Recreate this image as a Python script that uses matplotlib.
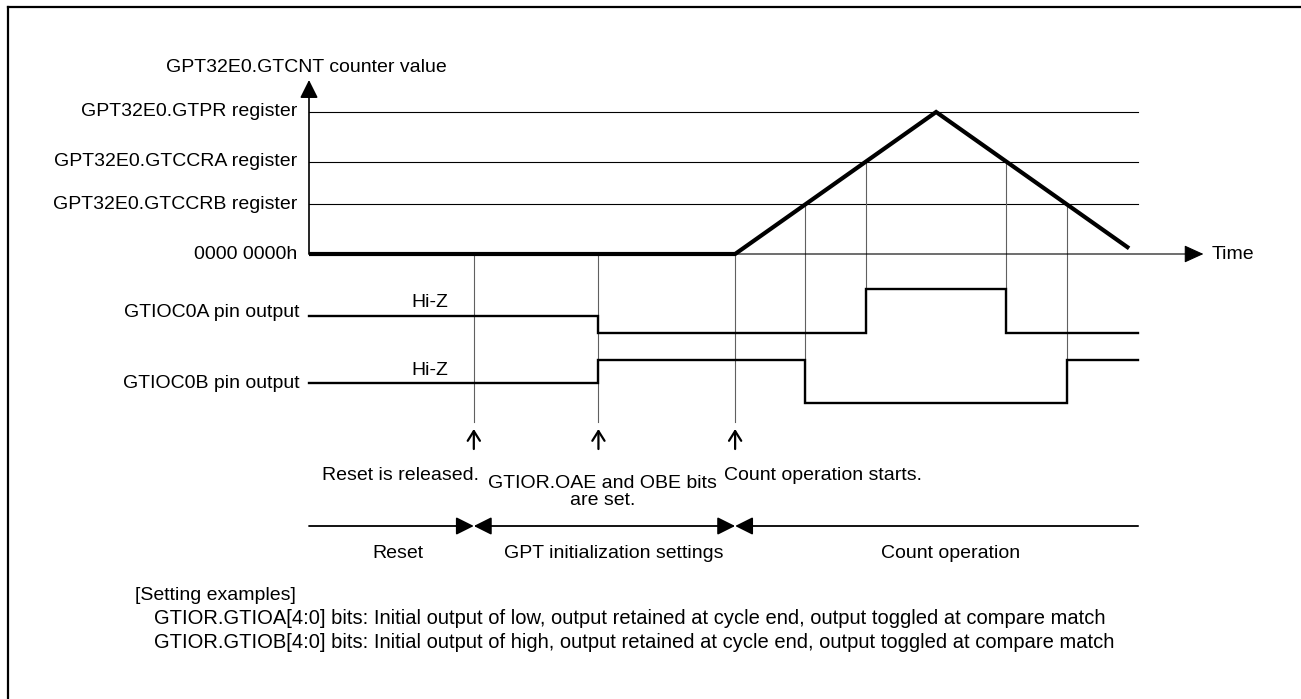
import numpy as np
import matplotlib
matplotlib.use("Agg")
import matplotlib.pyplot as plt
from matplotlib.lines import Line2D

plt.rcParams['font.family'] = ['Liberation Sans', 'DejaVu Sans']

# register levels (counter value as % of the GTPR period)
register_names = ["GPT32E0.GTPR register", "GPT32E0.GTCCRA register",
                  "GPT32E0.GTCCRB register", "0000 0000h"]
register_values = [100, 65, 35, 0]
GTCCRA = register_values[1]
GTCCRB = register_values[2]

# GTCNT counter: stopped, then up-count to GTPR, then down-count
counter_t = [0, 212, 312, 408]
counter_v = [0, 0, 100, 4]

# events and phases
event_t = [82, 144, 212]
event_labels = ["Reset is released.", "GTIOR.OAE and OBE bits\nare set.",
                "Count operation starts."]
phase_names = ["Reset", "GPT initialization settings", "Count operation"]
t_end = 412.5
t_axis_end = 445

notes = ["[Setting examples]",
         "GTIOR.GTIOA[4:0] bits: Initial output of low, output retained at cycle end, output toggled at compare match",
         "GTIOR.GTIOB[4:0] bits: Initial output of high, output retained at cycle end, output toggled at compare match"]

# figure is laid out in pixel units, converted to time / counter units
W, H = 1301, 699
X0, Y0 = 309, 254          # origin of the counter graph (px)
SX, SY = 2.01, 1.42        # px per time unit, px per counter unit


def px(x):
    return (x - X0) / SX


def py(y):
    return (Y0 - y) / SY


def crossings(level):
    """times where the counter passes through a register level"""
    out = []
    for i in range(len(counter_t) - 1):
        v0, v1 = counter_v[i], counter_v[i + 1]
        if v0 != v1 and min(v0, v1) < level < max(v0, v1) + 1e-9:
            t0, t1 = counter_t[i], counter_t[i + 1]
            out.append(t0 + (level - v0) * (t1 - t0) / (v1 - v0))
    return out


a_match = crossings(GTCCRA)
b_match = crossings(GTCCRB)

# pin waveforms: segment states between edges
pin_a_edges = [0, event_t[1]] + a_match + [t_end]
pin_a_states = ["Z", "L", "H", "L"]
pin_b_edges = [0, event_t[1]] + b_match + [t_end]
pin_b_states = ["Z", "H", "L", "H"]
pin_a_level = {"Z": py(316), "L": py(333), "H": py(289)}
pin_b_level = {"Z": py(383), "L": py(403), "H": py(360)}

fig = plt.figure(figsize=(W / 100, H / 100), dpi=100)
ax = fig.add_axes([0, 0, 1, 1])
ax.set_xlim(px(0), px(W))
ax.set_ylim(py(H), py(0))
ax.axis('off')

FS = 14
thin = dict(color='black', lw=0.8)
guide = dict(color='#606060', lw=0.8)

# outer frame (top and left edges)
fig.add_artist(Line2D([8 / W, 8 / W], [0, 1 - 7 / H], color='black', lw=1.6,
                      transform=fig.transFigure))
fig.add_artist(Line2D([8 / W, 1], [1 - 7 / H, 1 - 7 / H], color='black', lw=1.6,
                      transform=fig.transFigure))

# register levels
for name, val in zip(register_names, register_values):
    if val > 0:
        ax.plot([0, t_end], [val, val], **thin)
    ax.text(px(297), val, name, ha='right', va='center', fontsize=FS)

# axes arrows
ax.annotate('', xy=(0, py(80)), xytext=(0, 0),
            arrowprops=dict(arrowstyle='-|>,head_length=0.5,head_width=0.25',
                            color='black', lw=1.2, mutation_scale=22,
                            shrinkA=0, shrinkB=0))
ax.annotate('', xy=(t_axis_end, 0), xytext=(0, 0),
            arrowprops=dict(arrowstyle='-|>,head_length=0.55,head_width=0.25',
                            color='black', lw=0.8, mutation_scale=22,
                            shrinkA=0, shrinkB=0))
ax.text(px(306), py(67), "GPT32E0.GTCNT counter value", ha='center',
        va='center', fontsize=FS)
ax.text(px(1212), 0, "Time", ha='left', va='center', fontsize=FS)

# guide lines at events and compare matches
for t in event_t:
    ax.plot([t, t], [0, py(422)], **guide)
for t in a_match:
    ax.plot([t, t], [GTCCRA, pin_a_level["L"]], **guide)
for t in b_match:
    ax.plot([t, t], [GTCCRB, pin_b_level["L"]], **guide)

# counter value
ax.plot(counter_t, counter_v, color='black', lw=3.0, solid_capstyle='butt',
        solid_joinstyle='miter')


def draw_pin(edges, states, levels):
    xs, ys = [], []
    for i, s in enumerate(states):
        xs += [edges[i], edges[i + 1]]
        ys += [levels[s], levels[s]]
    ax.plot(xs, ys, color='black', lw=1.7, solid_joinstyle='miter')


draw_pin(pin_a_edges, pin_a_states, pin_a_level)
draw_pin(pin_b_edges, pin_b_states, pin_b_level)
ax.text(px(300), py(312), "GTIOC0A pin output", ha='right', va='center', fontsize=FS)
ax.text(px(300), py(383), "GTIOC0B pin output", ha='right', va='center', fontsize=FS)
ax.text(px(430), py(302), "Hi-Z", ha='center', va='center', fontsize=FS)
ax.text(px(430), py(370), "Hi-Z", ha='center', va='center', fontsize=FS)

# event markers and captions
for t in event_t:
    ax.annotate('', xy=(t, py(429)), xytext=(t, py(449)),
                arrowprops=dict(arrowstyle='->,head_length=0.35,head_width=0.22',
                                color='black', lw=1.6, mutation_scale=20,
                                shrinkA=0, shrinkB=0))
ax.text(event_t[0] + px(X0 + 5), py(475), event_labels[0], ha='right',
        va='center', fontsize=FS)
ax.text(event_t[1] + px(X0 + 4), py(492), event_labels[1], ha='center',
        va='center', fontsize=FS, linespacing=0.95)
ax.text(event_t[2] - px(X0 + 11), py(475), event_labels[2], ha='left',
        va='center', fontsize=FS)

# phase spans
bounds = [0] + [event_t[0], event_t[2]] + [t_end]
y_ph = py(526)
head = 'head_length=0.4,head_width=0.2'
for i in range(3):
    a, b = bounds[i], bounds[i + 1]
    style = ['-|>', '<|-|>', '<|-'][i]
    ax.annotate('', xy=(b, y_ph), xytext=(a, y_ph),
                arrowprops=dict(arrowstyle=f'{style},{head}', color='black',
                                lw=1.3, mutation_scale=27, shrinkA=0, shrinkB=0))
phase_x = [398, 614, 951]
for name, x in zip(phase_names, phase_x):
    ax.text(px(x), py(553), name, ha='center', va='center', fontsize=FS)

# setting notes
ax.text(px(135), py(595), notes[0], ha='left', va='center', fontsize=FS)
ax.text(px(154), py(619), notes[1], ha='left', va='center', fontsize=14.5)
ax.text(px(154), py(643), notes[2], ha='left', va='center', fontsize=14.5)

fig.savefig("out.png", dpi=100)
